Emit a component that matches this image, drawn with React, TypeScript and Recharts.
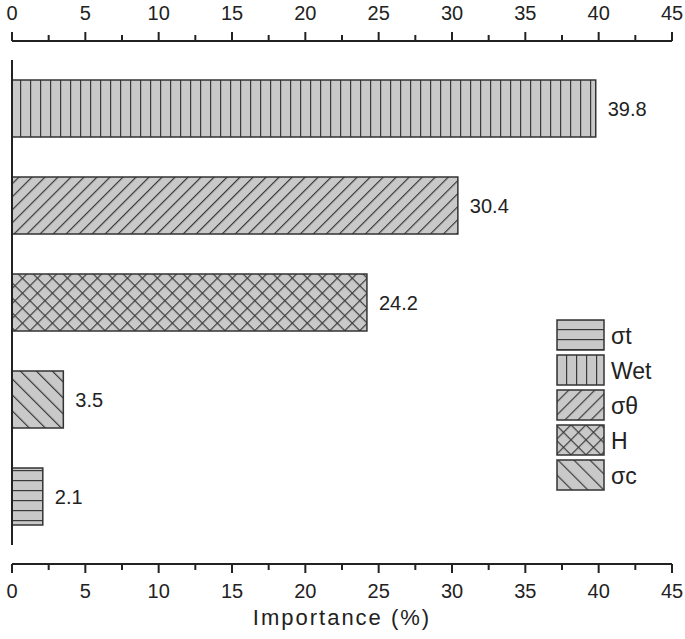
import { BarChart, Bar, XAxis, YAxis, Cell, LabelList, Legend } from "recharts";

const categories = ["Wet", "σθ", "H", "σc", "σt"];
const importance = [39.8, 30.4, 24.2, 3.5, 2.1];
const patternOf = ["vert", "fwd", "cross", "back", "horiz"];
const legendNames = ["σt", "Wet", "σθ", "H", "σc"];
const legendPatterns = ["horiz", "vert", "fwd", "cross", "back"];
const majorTicks = [0, 5, 10, 15, 20, 25, 30, 35, 40, 45];
const minorTicks = [2.5, 7.5, 12.5, 17.5, 22.5, 27.5, 32.5, 37.5, 42.5];

const data = categories.map((name, i) => ({ name, value: importance[i], pat: patternOf[i] }));
const allTicks = [...majorTicks, ...minorTicks].sort((a, b) => a - b);

const FONT = "Arial, 'Liberation Sans', sans-serif";
const FILL = "#c9c9c9";
const LINE = "#3a3a3a";

function Patterns({ prefix }: { prefix: string }) {
  return (
    <defs>
      <pattern id={`${prefix}-vert`} patternUnits="userSpaceOnUse" width={10} height={10}>
        <rect width={10} height={10} fill={FILL} />
        <line x1={0.6} y1={0} x2={0.6} y2={10} stroke={LINE} strokeWidth={1.2} />
      </pattern>
      <pattern id={`${prefix}-horiz`} patternUnits="userSpaceOnUse" width={10} height={10}>
        <rect width={10} height={10} fill={FILL} />
        <line x1={0} y1={0.6} x2={10} y2={0.6} stroke={LINE} strokeWidth={1.2} />
      </pattern>
      <pattern id={`${prefix}-fwd`} patternUnits="userSpaceOnUse" width={9.2} height={9.2} patternTransform="rotate(45)">
        <rect width={9.2} height={9.2} fill={FILL} />
        <line x1={0.6} y1={0} x2={0.6} y2={9.2} stroke={LINE} strokeWidth={1.2} />
      </pattern>
      <pattern id={`${prefix}-back`} patternUnits="userSpaceOnUse" width={11.3} height={11.3} patternTransform="rotate(-45)">
        <rect width={11.3} height={11.3} fill={FILL} />
        <line x1={0.6} y1={0} x2={0.6} y2={11.3} stroke={LINE} strokeWidth={1.2} />
      </pattern>
      <pattern id={`${prefix}-cross`} patternUnits="userSpaceOnUse" width={10.6} height={10.6} patternTransform="rotate(45)">
        <rect width={10.6} height={10.6} fill={FILL} />
        <line x1={0.6} y1={0} x2={0.6} y2={10.6} stroke={LINE} strokeWidth={1.2} />
        <line x1={0} y1={0.6} x2={10.6} y2={0.6} stroke={LINE} strokeWidth={1.2} />
      </pattern>
    </defs>
  );
}

function makeTick(side: "top" | "bottom") {
  return (props: any) => {
    const { x, y, payload } = props;
    const v = payload.value as number;
    const major = majorTicks.includes(v);
    const len = major ? 9 : 6;
    const dir = side === "top" ? -1 : 1;
    return (
      <g>
        <line x1={x} x2={x} y1={y} y2={y + dir * len} stroke="#222" strokeWidth={2} />
        {major && (
          <text
            x={x}
            y={side === "top" ? y - 21 : y + 34}
            textAnchor="middle"
            fontSize={20}
            fontFamily={FONT}
            fill="#222"
          >
            {v}
          </text>
        )}
      </g>
    );
  };
}

// left axis drawn band by band so it stops at the category extents
const LeftSpine = (props: any) => {
  const { x, y, payload } = props;
  const half = payload && payload.offset ? payload.offset : 48.5;
  return <line x1={x} x2={x} y1={y - half} y2={y + half} stroke="#222" strokeWidth={2} />;
};

const LegendBox = () => (
  <svg width={130} height={176} style={{ display: "block" }}>
    <Patterns prefix="lg" />
    {legendNames.map((name, i) => (
      <g key={name} transform={`translate(0, ${i * 35})`}>
        <rect x={1} y={1} width={47} height={30} fill={`url(#lg-${legendPatterns[i]})`} stroke="#333" strokeWidth={1.5} />
        <text x={55} y={24.5} fontSize={23} fontFamily={FONT} fill="#222">
          {name}
        </text>
      </g>
    ))}
  </svg>
);

export default function App() {
  return (
    <>
      <style>{`body { margin: 0; overflow: hidden; }`}</style>
      <BarChart
        width={685}
        height={631}
        data={data}
        layout="vertical"
        margin={{ top: 0, right: 13, bottom: 0, left: 8 }}
      >
        <Patterns prefix="bar" />
        <XAxis
          xAxisId="top"
          orientation="top"
          type="number"
          domain={[0, 45]}
          allowDataOverflow
          ticks={allTicks}
          interval={0}
          height={41}
          axisLine={{ stroke: "#222", strokeWidth: 2 }}
          tickLine={false}
          tickSize={0}
          tickMargin={0}
          tick={makeTick("top")}
        />
        <XAxis
          xAxisId="bottom"
          orientation="bottom"
          type="number"
          domain={[0, 45]}
          allowDataOverflow
          ticks={allTicks}
          interval={0}
          height={67}
          axisLine={{ stroke: "#222", strokeWidth: 2 }}
          tickLine={false}
          tickSize={0}
          tickMargin={0}
          tick={makeTick("bottom")}
          label={{
            value: "Importance (%)",
            position: "insideBottom",
            offset: 6,
            fontSize: 22,
            letterSpacing: 2,
            fontFamily: FONT,
            fill: "#222",
          }}
        />
        <YAxis
          type="category"
          dataKey="name"
          width={4}
          padding={{ top: 19, bottom: 19 }}
          axisLine={false}
          tickLine={false}
          tickSize={0}
          tickMargin={0}
          interval={0}
          tick={LeftSpine}
        />
        <Legend
          layout="horizontal"
          verticalAlign="middle"
          align="center"
          content={() => <LegendBox />}
          wrapperStyle={{ left: 556, top: 319, width: 130, height: 176 }}
        />
        <Bar
          xAxisId="bottom"
          dataKey="value"
          barSize={57}
          stroke="#333"
          strokeWidth={1.5}
          isAnimationActive={false}
        >
          {data.map((d) => (
            <Cell key={d.name} fill={`url(#bar-${d.pat})`} />
          ))}
          <LabelList
            dataKey="value"
            position="right"
            offset={12}
            fontSize={20}
            fontFamily={FONT}
            fill="#222"
          />
        </Bar>
      </BarChart>
    </>
  );
}
